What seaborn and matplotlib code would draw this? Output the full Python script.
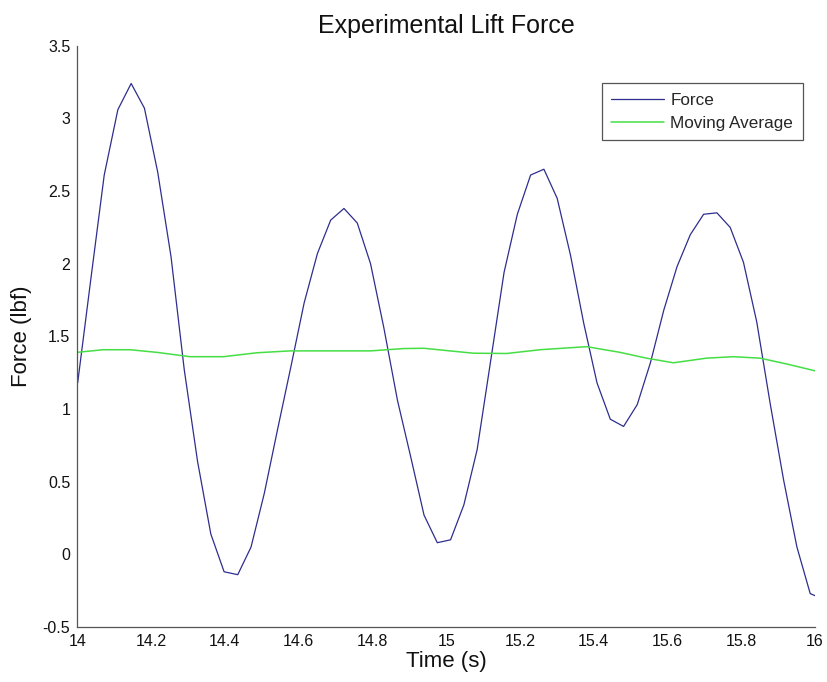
import numpy as np
import pandas as pd
import matplotlib
matplotlib.use("Agg")
import matplotlib.pyplot as plt
import seaborn as sns

# values
force_time = [14.001, 14.037, 14.073, 14.110, 14.146, 14.182, 14.218, 14.254, 14.290, 14.326,
              14.362, 14.398, 14.435, 14.471, 14.507, 14.543, 14.579, 14.615, 14.651, 14.687,
              14.723, 14.759, 14.795, 14.831, 14.868, 14.904, 14.940, 14.976, 15.012, 15.048,
              15.084, 15.120, 15.157, 15.193, 15.229, 15.265, 15.301, 15.337, 15.373, 15.409,
              15.445, 15.481, 15.518, 15.554, 15.590, 15.626, 15.662, 15.698, 15.734, 15.770,
              15.806, 15.842, 15.879, 15.915, 15.951, 15.987, 16.023]
force = [1.18, 1.90, 2.61, 3.06, 3.24, 3.07, 2.63, 2.05, 1.27, 0.64,
         0.14, -0.12, -0.14, 0.05, 0.42, 0.86, 1.29, 1.73, 2.07, 2.30,
         2.38, 2.28, 2.00, 1.56, 1.06, 0.67, 0.27, 0.08, 0.10, 0.34,
         0.72, 1.32, 1.94, 2.34, 2.61, 2.65, 2.45, 2.06, 1.59, 1.18,
         0.93, 0.88, 1.03, 1.32, 1.68, 1.98, 2.20, 2.34, 2.35, 2.25,
         2.01, 1.60, 1.03, 0.51, 0.05, -0.27, -0.31]

ma_time = [14.00, 14.07, 14.143, 14.215, 14.306, 14.396, 14.487, 14.577, 14.668, 14.795,
           14.885, 14.94, 15.01, 15.074, 15.164, 15.255, 15.381, 15.471, 15.543, 15.616,
           15.706, 15.779, 15.851, 15.923, 16.0]
moving_avg = [1.39, 1.408, 1.408, 1.39, 1.36, 1.36, 1.387, 1.40, 1.40, 1.40,
              1.416, 1.418, 1.40, 1.384, 1.382, 1.408, 1.429, 1.39, 1.35, 1.318,
              1.35, 1.36, 1.35, 1.31, 1.263]

x_ticks = [14, 14.2, 14.4, 14.6, 14.8, 15, 15.2, 15.4, 15.6, 15.8, 16]
x_tick_labels = ["14", "14.2", "14.4", "14.6", "14.8", "15", "15.2", "15.4", "15.6", "15.8", "16"]
y_ticks = [-0.5, 0, 0.5, 1, 1.5, 2, 2.5, 3, 3.5]
y_tick_labels = ["-0.5", "0", "0.5", "1", "1.5", "2", "2.5", "3", "3.5"]

force_df = pd.DataFrame({"time": force_time, "force": force})
ma_df = pd.DataFrame({"time": ma_time, "force": moving_avg})

sns.set_style("white")
plt.rcParams["font.family"] = ["Liberation Sans", "DejaVu Sans"]

W, H = 828, 682
fig = plt.figure(figsize=(W / 100, H / 100), dpi=100)
ax = fig.add_axes([77.3 / W, 1 - 627 / H, (815 - 77.3) / W, (627 - 45.7) / H])

sns.lineplot(data=force_df, x="time", y="force", ax=ax, sort=False, estimator=None,
             color="#2e2e8e", linewidth=0.9, label="Force")
sns.lineplot(data=ma_df, x="time", y="force", ax=ax, sort=False, estimator=None,
             color="#45de45", linewidth=1.1, label="Moving Average")

ax.set_xlim(14, 16)
ax.set_ylim(-0.5, 3.5)
ax.set_xticks(x_ticks)
ax.set_xticklabels(x_tick_labels)
ax.set_yticks(y_ticks)
ax.set_yticklabels(y_tick_labels)

for side in ["top", "right"]:
    ax.spines[side].set_visible(False)
for side in ["left", "bottom"]:
    ax.spines[side].set_color("#555555")
    ax.spines[side].set_linewidth(0.9)

ax.tick_params(axis="x", direction="in", length=7, width=0.9, color="#555555",
               labelsize=11.5, pad=5, labelcolor="#111111")
ax.tick_params(axis="y", direction="in", length=3.5, width=0.9, color="#555555",
               labelsize=11.5, pad=5, labelcolor="#111111")

ax.set_xlabel("Time (s)", fontsize=16, color="#111111")
ax.xaxis.set_label_coords(0.5, -0.041)
ax.set_ylabel("Force (lbf)", fontsize=16, color="#111111")
ax.yaxis.set_label_coords(-0.061, 0.5)
ax.set_title("Experimental Lift Force", fontsize=18, color="#111111", pad=9)

leg = ax.legend(loc="upper right", bbox_to_anchor=(802.7 / W, 1 - 83.3 / H),
                bbox_transform=fig.transFigure, borderaxespad=0, fancybox=False,
                fontsize=12.3, handlelength=3.1, handletextpad=0.35, borderpad=0.55,
                labelspacing=0.48, framealpha=1)
leg.get_frame().set_edgecolor("#555555")
leg.get_frame().set_linewidth(0.9)

fig.savefig("out.png", dpi=100)
